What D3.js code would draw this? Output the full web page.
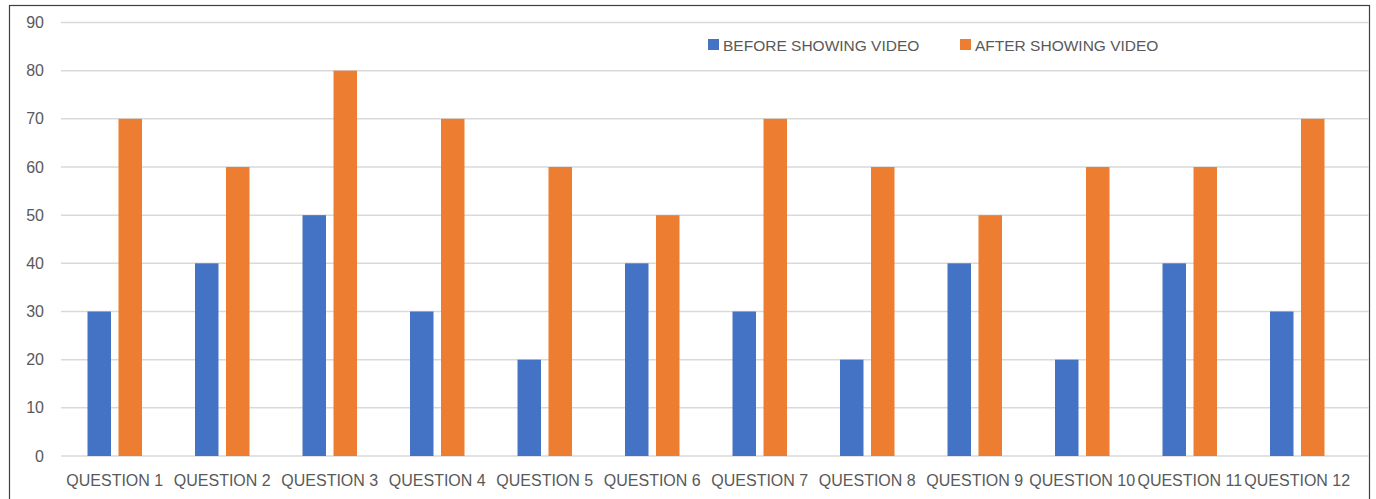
<!DOCTYPE html>
<html><head><meta charset="utf-8">
<script src="https://cdn.jsdelivr.net/npm/d3@7"></script>
<style>body{margin:0;background:#fff}svg{display:block}</style>
</head><body>
<script>
const categories = ["QUESTION 1","QUESTION 2","QUESTION 3","QUESTION 4","QUESTION 5","QUESTION 6","QUESTION 7","QUESTION 8","QUESTION 9","QUESTION 10","QUESTION 11","QUESTION 12"];
const beforeValues = [30,40,50,30,20,40,30,20,40,20,40,30];
const afterValues  = [70,60,80,70,60,50,70,60,50,60,60,70];
const seriesNames = ["BEFORE SHOWING VIDEO","AFTER SHOWING VIDEO"];
const seriesColors = ["#4472C4","#ED7D31"];
const yTicks = [0,10,20,30,40,50,60,70,80,90];

const W = 1376, H = 499;
const svg = d3.select("body").append("svg").attr("width", W).attr("height", H);
const font = "'Liberation Sans', Arial, sans-serif";

// border
svg.append("rect").attr("x", 9.5).attr("y", 5.5).attr("width", 1360).attr("height", 510)
  .attr("fill", "none").attr("stroke", "#404040").attr("stroke-width", 1.2);

const y = d3.scaleLinear().domain([0, 90]).range([456, 22.5]);
const x0 = d3.scaleBand().domain(categories).range([61, 1351]).padding(0);
const x1 = d3.scaleBand().domain([0, 1]).range([26.5, 81]).paddingInner(0.242).paddingOuter(0);

// gridlines
svg.append("g").selectAll("line").data(yTicks).join("line")
  .attr("x1", 61).attr("x2", 1369).attr("y1", d => y(d)).attr("y2", d => y(d))
  .attr("stroke", "#d9d9d9").attr("stroke-width", 1.5);

// y axis labels
const yAxis = d3.axisLeft(y).tickValues(yTicks).tickSize(0).tickPadding(0);
const gy = svg.append("g").attr("transform", "translate(44,0)").call(yAxis);
gy.select(".domain").remove();
gy.selectAll("text").attr("font-family", font).attr("font-size", 16).attr("fill", "#595959");

// bars
const data = categories.map((c, i) => ({c, v: [beforeValues[i], afterValues[i]]}));
const groups = svg.append("g").selectAll("g").data(data).join("g")
  .attr("transform", d => `translate(${x0(d.c)},0)`);
groups.selectAll("rect").data(d => d.v.map((v, k) => ({v, k}))).join("rect")
  .attr("x", d => x1(d.k)).attr("width", x1.bandwidth())
  .attr("y", d => y(d.v)).attr("height", d => y(0) - y(d.v))
  .attr("fill", d => seriesColors[d.k]);

// x axis labels
const xAxis = d3.axisBottom(x0).tickSize(0).tickPadding(0);
const gx = svg.append("g").attr("transform", "translate(0,475)").call(xAxis);
gx.select(".domain").remove();
gx.selectAll("text").attr("font-family", font).attr("font-size", 16).attr("fill", "#595959");

// legend
const legendX = [708, 960];
const lg = svg.append("g").selectAll("g").data(seriesNames).join("g")
  .attr("transform", (d, i) => `translate(${legendX[i]},39)`);
lg.append("rect").attr("width", 11).attr("height", 11).attr("fill", (d, i) => seriesColors[i]);
lg.append("text").attr("x", 15).attr("y", 11.5).text(d => d)
  .attr("font-family", font).attr("font-size", 15.5).attr("fill", "#595959");
</script>
</body></html>
